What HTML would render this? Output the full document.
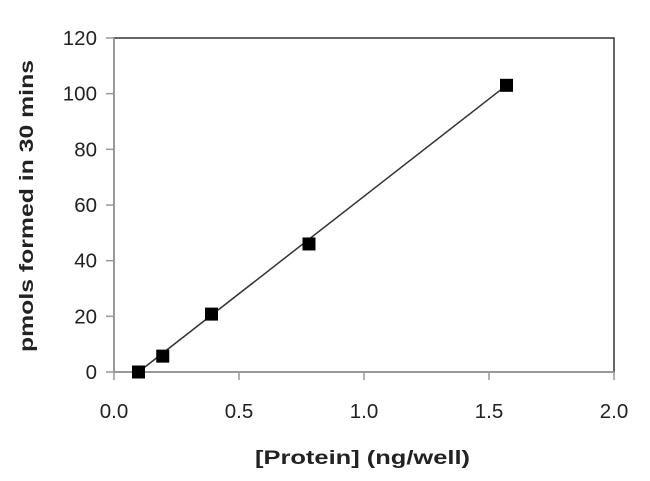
<!DOCTYPE html>
<html><head><meta charset="utf-8"><style>
body{margin:0;background:#fff;}
svg text{font-family:"Liberation Sans",sans-serif;fill:#222;}
</style></head><body>
<svg width="650" height="476">
<g id="g"></g>
</svg>
<script>
const xData=[0.098,0.195,0.39,0.78,1.57];
const yData=[0,5.7,20.8,46,103];
const xTicks=[0,0.5,1.0,1.5,2.0];
const yTicks=[0,20,40,60,80,100,120];
const L=114,R=614,T=38,B=372;
const sx=v=>L+v/2*(R-L), sy=v=>B-v/120*(B-T);
const ns='http://www.w3.org/2000/svg',g=document.getElementById('g');
function mk(t,a,txt){const e=document.createElementNS(ns,t);for(const k in a)e.setAttribute(k,a[k]);if(txt!==undefined)e.textContent=txt;g.appendChild(e);return e;}
let e;
e=mk('rect',{x:L,y:T,width:R-L,height:B-T,fill:'none',stroke:'#333','stroke-width':1.5});


e=mk('line',{x1:L,y1:T,x2:L,y2:B,stroke:'#999','stroke-width':1.5});


e=mk('line',{x1:L,y1:B,x2:R,y2:B,stroke:'#999','stroke-width':1.5});


yTicks.forEach(v=>{
 e=mk('line',{x1:L-8,y1:sy(v),x2:L,y2:sy(v),stroke:'#999','stroke-width':1.5});
 
 
 e=mk('text',{x:L-17,y:sy(v)+7,'text-anchor':'end','font-size':20.5},String(v));
 
 
});
xTicks.forEach(v=>{
 e=mk('line',{x1:sx(v),y1:B,x2:sx(v),y2:B+8,stroke:'#999','stroke-width':1.5});
 
 
 e=mk('text',{x:sx(v),y:B+46,'text-anchor':'middle','font-size':20.5},v.toFixed(1));
 
 
});
const n=xData.length;
e=mk('line',{x1:sx(xData[0]),y1:sy(yData[0]),x2:sx(xData[n-1]),y2:sy(yData[n-1]),stroke:'#333','stroke-width':1.5});


xData.forEach((x,i)=>{
 e=mk('rect',{x:sx(x)-6.5,y:sy(yData[i])-6.5,width:13,height:13,fill:'#000'});
 
 
});
e=mk('text',{x:255,y:464,'font-size':19,'font-weight':'bold',textLength:215,lengthAdjust:'spacingAndGlyphs'},'[Protein] (ng/well)');


e=mk('text',{x:0,y:0,'font-size':19,'font-weight':'bold',textLength:292,lengthAdjust:'spacingAndGlyphs',transform:'translate(33,352) rotate(-90)'},'pmols formed in 30 mins');


</script>
</body></html>
